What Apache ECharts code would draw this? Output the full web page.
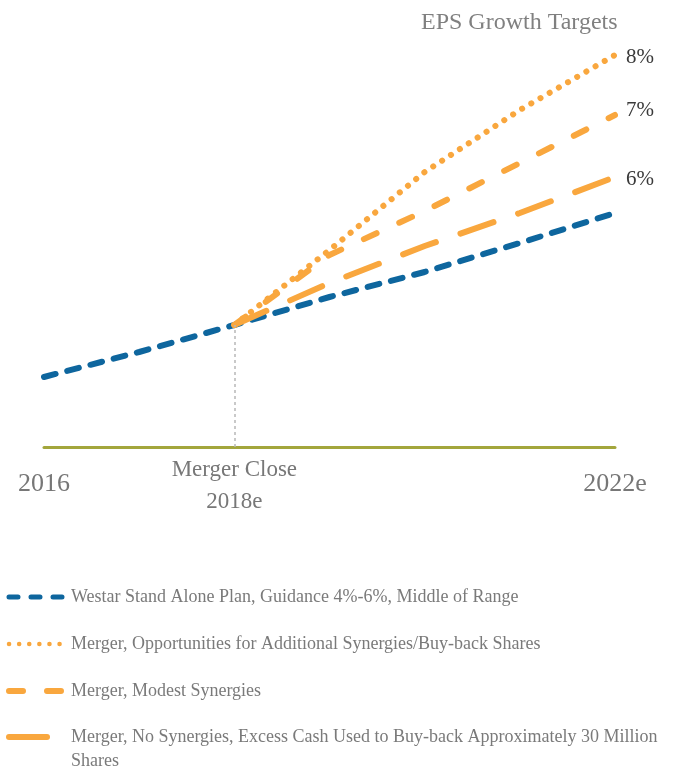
<!DOCTYPE html>
<html lang="en">
  <head>
    <meta charset="UTF-8" />
    <title>EPS Growth Targets</title>
    <script src="https://cdn.jsdelivr.net/npm/echarts@6/dist/echarts.min.js"></script>
    <style>
      html, body { margin: 0; padding: 0; background: #fff; }
    </style>
  </head>
  <body>
    <div id="main" style="width: 674px; height: 774px"></div>
    <script>
      // EPS index (height above the baseline)
      const years = [2016, 2017, 2018, 2019, 2020, 2021, 2022];
      const mergerYears = [2018, 2019, 2020, 2021, 2022];
      const standAlone = [70, 95, 122, 150, 175, 204, 234];
      const additionalSynergies = [122, 197, 275, 337, 392];
      const modestSynergies = [122, 192, 236, 284, 332];
      const noSynergies = [122, 164, 201, 234, 270];
      const targetLabels = ['8%', '7%', '6%'];
      const tickYears = [2016, 2018, 2022];
      const tickLabels = ['2016', 'Merger Close\n2018e', '2022e'];
      const seriesNames = [
        'Westar Stand Alone Plan, Guidance 4%-6%, Middle of Range',
        'Merger, Opportunities for Additional Synergies/Buy-back Shares',
        'Merger, Modest Synergies',
        'Merger, No Synergies, Excess Cash Used to Buy-back Approximately 30 Million Shares',
      ];

      const serif = '"Liberation Serif", "DejaVu Serif", serif';
      const blue = '#0e669e';
      const orange = '#f9a73e';
      const legendGrey = '#7a7a7a';
      const pairs = (xs, ys) => xs.map((x, i) => [x, ys[i]]);

      const endLabel = (text, dy) => ({
        show: true,
        formatter: text,
        distance: 0,
        offset: [11, dy],
        fontFamily: serif,
        fontSize: 21,
        color: '#3a3a3a',
      });

      let myCharts = echarts.init(document.getElementById('main'));
      let option = {
        animation: false,
        title: {
          text: 'EPS Growth Targets',
          left: 416,
          top: 6,
          textStyle: { fontFamily: serif, fontSize: 24, fontWeight: 'normal', color: '#808080' },
        },
        grid: { left: 44, right: 59, top: 47, bottom: 327 },
        xAxis: {
          type: 'value',
          min: 2016,
          max: 2022,
          interval: 1,
          splitLine: { show: false },
          axisTick: { show: false },
          axisLine: { lineStyle: { color: '#a3a63c', width: 3 } },
          axisLabel: {
            showMinLabel: true,
            showMaxLabel: true,
            margin: 7,
            formatter: function (val) {
              let i = tickYears.indexOf(val);
              if (i < 0) return '';
              if (val === 2018) {
                return tickLabels[i].split('\n').map((s) => '{a|' + s + '}').join('\n');
              }
              return '{big|' + tickLabels[i] + '}';
            },
            rich: {
              a: { fontFamily: serif, fontSize: 23, lineHeight: 32, color: '#777' },
              big: { fontFamily: serif, fontSize: 26, lineHeight: 60, color: '#777' },
            },
          },
        },
        yAxis: { type: 'value', min: 0, max: 400, show: false },
        legend: [
          {
            orient: 'vertical',
            left: 6,
            top: 586,
            padding: 0,
            itemWidth: 57,
            itemHeight: 14,
            itemGap: 25,
            selectedMode: false,
            itemStyle: { opacity: 0 },
            textStyle: { fontFamily: serif, fontSize: 18, lineHeight: 22, color: legendGrey },
            data: [
              { name: seriesNames[0], lineStyle: { type: [9, 13], width: 5, cap: 'round', color: blue } },
              { name: seriesNames[1], lineStyle: { type: [0.1, 10], width: 4.5, cap: 'round', color: orange } },
              { name: seriesNames[2], lineStyle: { type: [14, 24], width: 6, cap: 'round', color: orange } },
            ],
          },
          {
            orient: 'vertical',
            left: 6,
            top: 704,
            padding: 0,
            itemWidth: 57,
            itemHeight: 14,
            selectedMode: false,
            itemStyle: { opacity: 0 },
            // blank first line keeps the first text line level with the icon
            formatter: (name) => '{p| }\n{a|' + name.replace(' Shares', '}\n{a|Shares') + '}',
            textStyle: {
              rich: {
                p: { fontFamily: serif, fontSize: 18, lineHeight: 24, color: legendGrey },
                a: { fontFamily: serif, fontSize: 18, lineHeight: 24, color: legendGrey },
              },
            },
            data: [{ name: seriesNames[3], lineStyle: { type: [38, 30], width: 6, cap: 'round', color: orange } }],
          },
        ],
        series: [
          {
            name: seriesNames[0],
            type: 'line',
            symbol: 'none',
            data: pairs(years, standAlone),
            lineStyle: { color: blue, width: 6, type: [12, 12], cap: 'round' },
            itemStyle: { color: blue },
            markLine: {
              silent: true,
              symbol: ['none', 'none'],
              label: { show: false },
              lineStyle: { color: '#b8b8b8', type: [3, 3], width: 1.5 },
              data: [[{ coord: [2018, 0] }, { coord: [2018, standAlone[2]] }]],
            },
          },
          {
            name: seriesNames[1],
            type: 'line',
            symbol: 'none',
            data: pairs(mergerYears, additionalSynergies),
            lineStyle: { color: orange, width: 6, type: [0.1, 10.5], cap: 'round' },
            itemStyle: { color: orange },
            endLabel: endLabel(targetLabels[0], 2),
          },
          {
            name: seriesNames[2],
            type: 'line',
            symbol: 'none',
            data: pairs(mergerYears, modestSynergies),
            lineStyle: { color: orange, width: 6, type: [14, 25], cap: 'round' },
            itemStyle: { color: orange },
            endLabel: endLabel(targetLabels[1], -5),
          },
          {
            name: seriesNames[3],
            type: 'line',
            symbol: 'none',
            data: pairs(mergerYears, noSynergies),
            lineStyle: { color: orange, width: 6, type: [35, 26], cap: 'round' },
            itemStyle: { color: orange },
            endLabel: endLabel(targetLabels[2], 2),
          },
        ],
      };
      myCharts.setOption(option);
    </script>
  </body>
</html>
